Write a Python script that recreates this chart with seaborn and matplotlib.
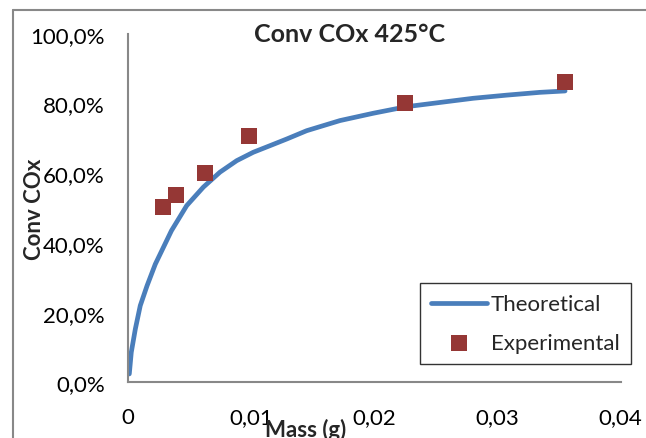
import matplotlib
matplotlib.use("Agg")
import matplotlib.pyplot as plt
from matplotlib.lines import Line2D
import seaborn as sns
import pandas as pd

# Theoretical conversion curve (mass in g, conversion in %)
theo_mass = [0.00013, 0.00029, 0.00062, 0.00102, 0.00157, 0.00224, 0.00355,
             0.00479, 0.00614, 0.00749, 0.00885, 0.01019, 0.01155, 0.0129,
             0.01453, 0.01723, 0.01993, 0.02265, 0.02535, 0.02805, 0.03076,
             0.03346, 0.0355]
theo_conv = [2.4, 8.6, 15.3, 22.0, 27.7, 33.9, 43.5,
             50.7, 56.0, 60.3, 63.6, 66.0, 67.9, 69.8,
             72.2, 75.1, 77.2, 79.1, 80.3, 81.5, 82.4,
             83.2, 83.6]

# Experimental measurements
exp_mass = [0.00287, 0.00395, 0.00627, 0.00985, 0.0225, 0.0355]
exp_conv = [50.4, 53.7, 60.1, 70.6, 80.1, 86.3]

x_ticks = [0, 0.01, 0.02, 0.03, 0.04]
x_tick_labels = ["0", "0,01", "0,02", "0,03", "0,04"]
y_ticks = [0, 20, 40, 60, 80, 100]
y_tick_labels = ["0,0%", "20,0%", "40,0%", "60,0%", "80,0%", "100,0%"]

title = "Conv COx 425°C"
x_label = "Mass (g)"
y_label = "Conv COx"

sns.set_style("white")
plt.rcParams["font.family"] = ["Lato", "DejaVu Sans"]

W, H = 646, 439
fig = plt.figure(figsize=(W / 100, H / 100), dpi=100)
ax = fig.add_axes([127.7 / W, 1 - 383.3 / H, 492.8 / W, 348.5 / H])

theo = pd.DataFrame({"mass": theo_mass, "conv": theo_conv})
expd = pd.DataFrame({"mass": exp_mass, "conv": exp_conv})

sns.lineplot(data=theo, x="mass", y="conv", ax=ax, color="#4A7EBB",
             linewidth=3.4, label="Theoretical", solid_capstyle="round",
             solid_joinstyle="round", zorder=2)
sns.scatterplot(data=expd, x="mass", y="conv", ax=ax, marker="s",
                color="#953735", s=120, linewidth=0, label="Experimental",
                zorder=3)

ax.set_xlim(0, 0.04)
ax.set_ylim(0, 100)
ax.set_xticks(x_ticks, x_tick_labels)
ax.set_yticks(y_ticks, y_tick_labels)

for side in ("top", "right"):
    ax.spines[side].set_visible(False)
for side in ("left", "bottom"):
    ax.spines[side].set_color("#888888")
    ax.spines[side].set_linewidth(1.5)

ax.tick_params(axis="both", direction="out", length=5.5, width=1.2,
               color="#888888", labelsize=16, labelcolor="black")
ax.tick_params(axis="y", pad=11)
ax.tick_params(axis="x", pad=12)

ax.set_xlabel(x_label, fontsize=16, fontweight="bold", va="center")
ax.xaxis.set_label_coords((306 - 127.7) / 492.8, (383.3 - 430) / 348.5)
ax.set_ylabel(y_label, fontsize=16, fontweight="bold", va="center")
ax.yaxis.set_label_coords((35 - 127.7) / 492.8, 0.5)

fig.text(350 / W, 1 - 35 / H, title, fontsize=18, fontweight="bold",
         ha="center", va="center")

leg = ax.legend(loc="upper left", bbox_to_anchor=(420 / W, 1 - 284.3 / H),
                bbox_transform=fig.transFigure, borderaxespad=0,
                fontsize=16, frameon=True, fancybox=False,
                handlelength=2.5, handletextpad=0.2, borderpad=0.5,
                labelspacing=0.85, markerscale=1.0)
leg.get_frame().set_edgecolor("black")
leg.get_frame().set_linewidth(1.0)

# Chart area outline
fig.add_artist(Line2D([12.5 / W, 1.0], [1 - 11 / H, 1 - 11 / H],
                      transform=fig.transFigure, color="#888888", lw=1.5))
fig.add_artist(Line2D([12.5 / W, 12.5 / W], [1 - 11 / H, 0.0],
                      transform=fig.transFigure, color="#888888", lw=1.5))

fig.savefig("out.png", dpi=100)
